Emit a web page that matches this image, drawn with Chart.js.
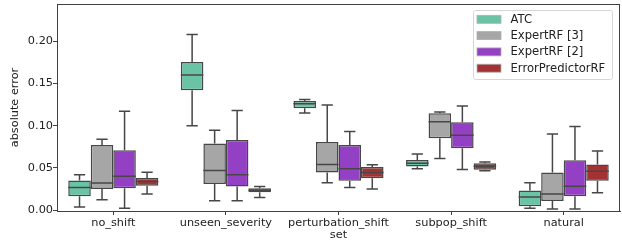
<!DOCTYPE html>
<html><head><meta charset="utf-8">
<script src="https://cdn.jsdelivr.net/npm/chart.js@4.4.1/dist/chart.umd.min.js"></script>
<style>html,body{margin:0;padding:0;background:#fff;}#wrap{width:622px;height:242px;}</style>
</head><body><div id="wrap"><canvas id="c" width="622" height="242"></canvas></div>
<script>
const categories = ["no_shift", "unseen_severity", "perturbation_shift", "subpop_shift", "natural"];
const seriesNames = ["ATC", "ExpertRF [3]", "ExpertRF [2]", "ErrorPredictorRF"];
const yTicks = [0.00, 0.05, 0.10, 0.15, 0.20];
// each entry: [whiskerLow, q1, median, q3, whiskerHigh]
const atc = [
  [0.0036, 0.0166, 0.0267, 0.0350, 0.0420],
  [0.1000, 0.1420, 0.1600, 0.1755, 0.2080],
  [0.1150, 0.1207, 0.1260, 0.1293, 0.1310],
  [0.0490, 0.0516, 0.0556, 0.0595, 0.0666],
  [0.0024, 0.0047, 0.0157, 0.0232, 0.0323]
];
const expertRF3 = [
  [0.0122, 0.0250, 0.0320, 0.0770, 0.0840],
  [0.0110, 0.0310, 0.0470, 0.0790, 0.0947],
  [0.0323, 0.0445, 0.0540, 0.0808, 0.1246],
  [0.0610, 0.0850, 0.1045, 0.1148, 0.1163],
  [0.0015, 0.0107, 0.0190, 0.0445, 0.0900]
];
const expertRF2 = [
  [0.0024, 0.0260, 0.0400, 0.0710, 0.1170],
  [0.0110, 0.0280, 0.0420, 0.0830, 0.1180],
  [0.0267, 0.0347, 0.0490, 0.0770, 0.0930],
  [0.0480, 0.0734, 0.0888, 0.1040, 0.1234],
  [0.0015, 0.0166, 0.0284, 0.0590, 0.0990]
];
const errorPredictorRF = [
  [0.0190, 0.0290, 0.0340, 0.0380, 0.0450],
  [0.0150, 0.0213, 0.0237, 0.0260, 0.0280],
  [0.0249, 0.0379, 0.0445, 0.0510, 0.0536],
  [0.0465, 0.0477, 0.0520, 0.0556, 0.0570],
  [0.0205, 0.0347, 0.0460, 0.0540, 0.0700]
];
const colors = ["#6ac3a5", "#a6a6a6", "#9440c4", "#a53232"];
const allStats = [atc, expertRF3, expertRF2, errorPredictorRF];

const EDGE = "#474747";
const FONT = {family: "'DejaVu Sans'", size: 11.3};
const LFONT = 11.6;

const boxPlugin = {
  id: 'boxextras',
  afterDatasetsDraw(chart) {
    const ctx = chart.ctx, ys = chart.scales.y;
    ctx.save();
    ctx.strokeStyle = EDGE; ctx.lineWidth = 1.5; ctx.lineCap = 'butt';
    chart.data.datasets.forEach((ds, di) => {
      const meta = chart.getDatasetMeta(di);
      meta.data.forEach((bar, i) => {
        const s = ds.stats[i];
        const x = bar.x, w = bar.width;
        const yLo = ys.getPixelForValue(s[0]), yQ1 = ys.getPixelForValue(s[1]);
        const yMed = ys.getPixelForValue(s[2]), yQ3 = ys.getPixelForValue(s[3]);
        const yHi = ys.getPixelForValue(s[4]);
        ctx.beginPath();
        ctx.moveTo(x, yQ1); ctx.lineTo(x, yLo);
        ctx.moveTo(x, yQ3); ctx.lineTo(x, yHi);
        ctx.moveTo(x - w / 4, yLo); ctx.lineTo(x + w / 4, yLo);
        ctx.moveTo(x - w / 4, yHi); ctx.lineTo(x + w / 4, yHi);
        ctx.moveTo(x - w / 2, yMed); ctx.lineTo(x + w / 2, yMed);
        ctx.stroke();
      });
    });
    // frame
    const a = chart.chartArea;
    ctx.strokeStyle = "#404040"; ctx.lineWidth = 1;
    ctx.strokeRect(a.left + 0.5, a.top + 0.5, a.right - a.left - 1, a.bottom - a.top);
    // legend
    const lx = 473, ly = 10, lw = 139, lh = 69;
    ctx.fillStyle = "rgba(255,255,255,0.85)";
    ctx.strokeStyle = "#d6d6d6"; ctx.lineWidth = 1;
    ctx.beginPath();
    if (ctx.roundRect) ctx.roundRect(lx + 0.5, ly + 0.5, lw, lh, 2); else ctx.rect(lx + 0.5, ly + 0.5, lw, lh);
    ctx.fill(); ctx.stroke();
    ctx.font = LFONT + "px " + FONT.family;
    ctx.textBaseline = 'middle'; ctx.textAlign = 'left';
    chart.data.datasets.forEach((ds, di) => {
      const cy = 19.3 + di * 16.3;
      ctx.fillStyle = ds.backgroundColor;
      ctx.fillRect(477, cy - 4, 24, 8);
      ctx.strokeStyle = "#b0b0b0"; ctx.lineWidth = 0.8;
      ctx.strokeRect(477, cy - 4, 24, 8);
      ctx.fillStyle = "#222";
      ctx.fillText(ds.label, 510.5, cy + 0.5);
    });
    ctx.restore();
  }
};

const datasets = seriesNames.map((name, k) => ({
  label: name,
  data: allStats[k].map(s => [s[1], s[3]]),
  stats: allStats[k],
  backgroundColor: colors[k],
  borderColor: EDGE,
  borderWidth: 1.5,
  borderSkipped: false,
  categoryPercentage: 0.8,
  barPercentage: 1.0
}));

new Chart(document.getElementById('c'), {
  type: 'bar',
  data: {labels: categories, datasets},
  options: {
    responsive: false,
    animation: false,
    devicePixelRatio: 1,
    layout: {padding: {top: 4, right: 2, left: 0, bottom: 0}},
    plugins: {legend: {display: false}, tooltip: {enabled: false}},
    scales: {
      x: {
        grid: {display: true, drawOnChartArea: false, drawTicks: true, tickLength: 4, offset: false, color: "#404040"},
        border: {display: true, color: "#404040"},
        ticks: {color: "#222", font: FONT, padding: 1, maxRotation: 0, autoSkip: false},
        title: {display: true, text: "set", color: "#222", font: FONT, padding: {top: 0, bottom: 0}},
        afterFit(s) { s.height = 31; s.paddingLeft = 0; s.paddingRight = 0; }
      },
      y: {
        min: -0.001, max: 0.244,
        afterBuildTicks(s) { s.ticks = yTicks.map(v => ({value: v})); },
        grid: {display: true, drawOnChartArea: false, drawTicks: true, tickLength: 4, color: "#404040"},
        border: {display: true, color: "#404040"},
        ticks: {color: "#222", font: FONT, padding: 0, callback: v => Number(v).toFixed(2)},
        title: {display: true, text: "absolute error", color: "#222", font: FONT, padding: {top: 8, bottom: 0}},
        afterFit(s) { s.width = 57; s.paddingTop = 0; s.paddingBottom = 0; }
      }
    }
  },
  plugins: [boxPlugin]
});
</script></body></html>
